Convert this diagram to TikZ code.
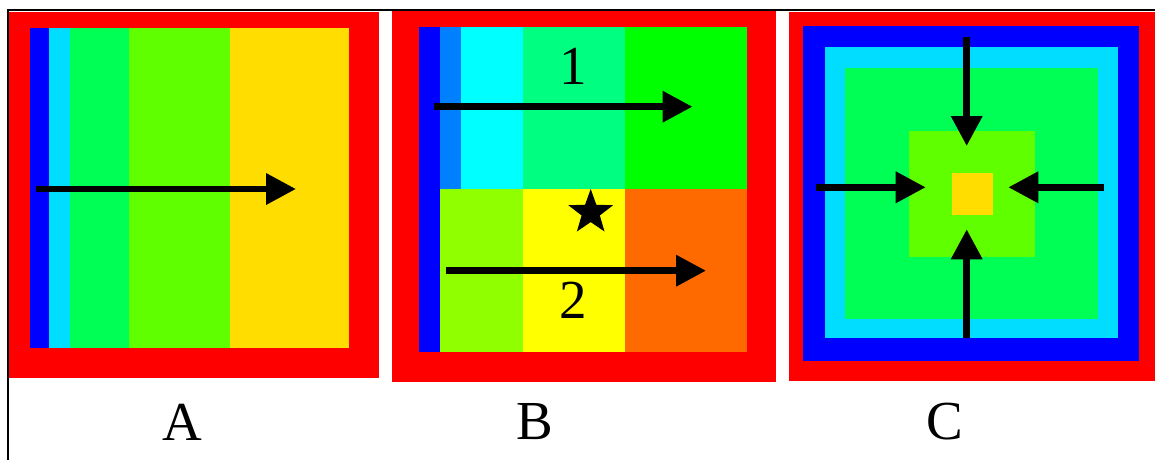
\documentclass[tikz,border=0pt]{standalone}
\usepackage{fontspec}
\setmainfont{Liberation Serif}
\usetikzlibrary{arrows.meta,shapes.geometric}
\definecolor{cred}{HTML}{FF0000}
\definecolor{cblue}{HTML}{0000FF}
\definecolor{ccyanA}{HTML}{00DDFF}
\definecolor{cgreenA}{HTML}{00FF55}
\definecolor{climeA}{HTML}{5FFF00}
\definecolor{cyellowA}{HTML}{FFDD00}
\definecolor{cazure}{HTML}{0080FF}
\definecolor{ccyan}{HTML}{00FFFF}
\definecolor{cspring}{HTML}{00FF80}
\definecolor{cgreen}{HTML}{00FF00}
\definecolor{cchart}{HTML}{90FF00}
\definecolor{cyellow}{HTML}{FFFF00}
\definecolor{corange}{HTML}{FF6A00}
\tikzset{
  arr/.style={line width=6.7pt,-{Triangle[length=30pt,width=30pt]}},
  frameline/.style={line width=2pt,black},
  lbl/.style={inner sep=0pt,font=\fontsize{55}{60}\selectfont},
}
\begin{document}
\begin{tikzpicture}[x=1pt,y=-1pt]
\useasboundingbox (0,0) rectangle (1155,460);
\fill[white] (0,0) rectangle (1155,460);
% ---------- Panel A ----------
\fill[cred] (9,12) rectangle (379,378);
\fill[cblue] (30,28) rectangle (49,348);
\fill[ccyanA] (49,28) rectangle (70,348);
\fill[cgreenA] (70,28) rectangle (129,348);
\fill[climeA] (129,28) rectangle (230,348);
\fill[cyellowA] (230,28) rectangle (349,348);
\coordinate (a1) at (36,189);
\coordinate (a2) at (296,189);
\draw[arr] (a1) -- (a2);
% ---------- Panel B ----------
\fill[cred] (392,11) rectangle (776,382);
\fill[cblue] (419,27) rectangle (439.5,352);
\fill[cazure] (439.5,27) rectangle (461,188.5);
\fill[ccyan] (461,27) rectangle (522.5,188.5);
\fill[cspring] (522.5,27) rectangle (624.5,188.5);
\fill[cgreen] (624.5,27) rectangle (747,188.5);
\fill[cchart] (439.5,188.5) rectangle (522.5,352);
\fill[cyellow] (522.5,188.5) rectangle (624.5,352);
\fill[corange] (624.5,188.5) rectangle (747,352);
\node[lbl] (n1) at (573,66.5) {1};
\node[lbl] (n2) at (573,300) {2};
\node[star,star points=5,star point ratio=2.45,fill=black,draw=none,
      minimum size=47pt,inner sep=0pt] (st) at (590.7,212.5) {};
\coordinate (b1s) at (433.5,106.7);
\coordinate (b1e) at (692.5,106.7);
\coordinate (b2s) at (446,270.7);
\coordinate (b2e) at (706,270.7);
\draw[arr] (b1s) -- (b1e);
\draw[arr] (b2s) -- (b2e);
% ---------- Panel C ----------
\fill[cred] (789,12) rectangle (1155,381);
\fill[cblue] (802.7,25.7) rectangle (1139,360.7);
\fill[ccyanA] (825,47.3) rectangle (1118.3,338.3);
\fill[cgreenA] (845.3,67.7) rectangle (1098.3,319);
\fill[climeA] (909.3,131) rectangle (1035,256.7);
\fill[cyellowA] (951.7,172.7) rectangle (993.3,215);
\coordinate (ct1) at (966.7,37.3);
\coordinate (ct2) at (966.7,146);
\coordinate (cb1) at (966.7,337.7);
\coordinate (cb2) at (966.7,229.3);
\coordinate (cl1) at (816,187.3);
\coordinate (cl2) at (925.7,187.3);
\coordinate (cr1) at (1104,187.3);
\coordinate (cr2) at (1008.3,187.3);
\draw[arr] (ct1) -- (ct2);
\draw[arr] (cb1) -- (cb2);
\draw[arr] (cl1) -- (cl2);
\draw[arr] (cr1) -- (cr2);
% ---------- frame lines ----------
\coordinate (f0) at (7.5,10);
\coordinate (f1) at (1155,10);
\coordinate (f2) at (7.5,460);
\draw[frameline] (f2) -- (f0) -- (f1);
% ---------- labels ----------
\node[lbl] (la) at (182,422) {A};
\node[lbl] (lb) at (535,422) {B};
\node[lbl] (lc) at (944.6,422) {C};
\end{tikzpicture}
\end{document}
